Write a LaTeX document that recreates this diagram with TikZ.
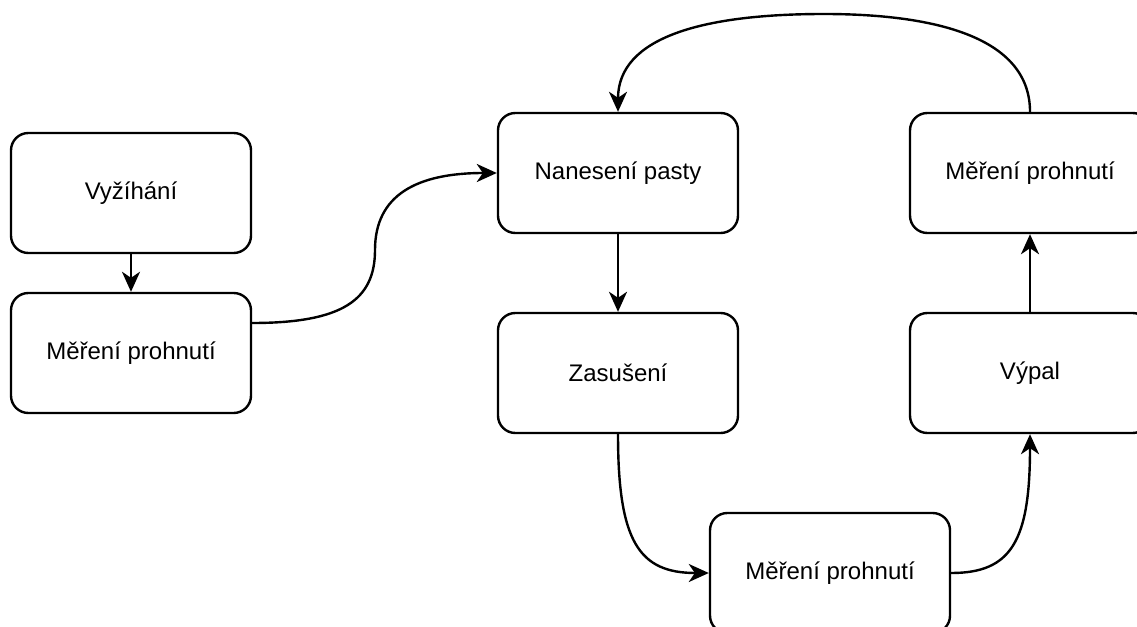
\documentclass[tikz,border=0pt]{standalone}
\usepackage{fontspec}
\setmainfont{Liberation Sans}
\usetikzlibrary{arrows.meta}
\begin{document}
\begin{tikzpicture}[x=0.75pt,y=-0.75pt,
  box/.style={draw=black, line width=1.8pt, rounded corners=13pt, minimum width=180pt, minimum height=90pt, inner sep=0pt, font=\fontsize{18pt}{21pt}\selectfont, fill=white},
  conn/.style={line width=1.8pt, -{Stealth[length=15pt,width=13.5pt,inset=4.5pt]}}]
\useasboundingbox (0,0) rectangle (1137,627);
\node[box] (vyz) at (131,193) {Vyžíhání};
\node[box] (m1) at (131,353) {Měření prohnutí};
\node[box] (nan) at (618,173) {Nanesení pasty};
\node[box] (zas) at (618,373) {Zasušení};
\node[box] (m2) at (830,573) {Měření prohnutí};
\node[box] (vyp) at (1030,373) {Výpal};
\node[box] (m3) at (1030,173) {Měření prohnutí};
\draw[conn] (vyz.south) -- (m1.north);
\draw[conn] ([yshift=22.5pt]m1.east) .. controls +(90,0) and +(0,50) .. (375,250) .. controls +(0,-55) and +(-80,0) .. (nan.west);
\draw[conn] (nan.south) -- (zas.north);
\draw[conn] (zas.south) .. controls +(0,107) and +(-70,0) .. (m2.west);
\draw[conn] (m2.east) .. controls +(60,0) and +(0,107) .. (vyp.south);
\draw[conn] (vyp.north) -- (m3.south);
\draw[conn] (m3.north) .. controls +(0,-75) and +(110,0) .. (824,14) .. controls +(-120,0) and +(0,-75) .. (nan.north);
\end{tikzpicture}
\end{document}
